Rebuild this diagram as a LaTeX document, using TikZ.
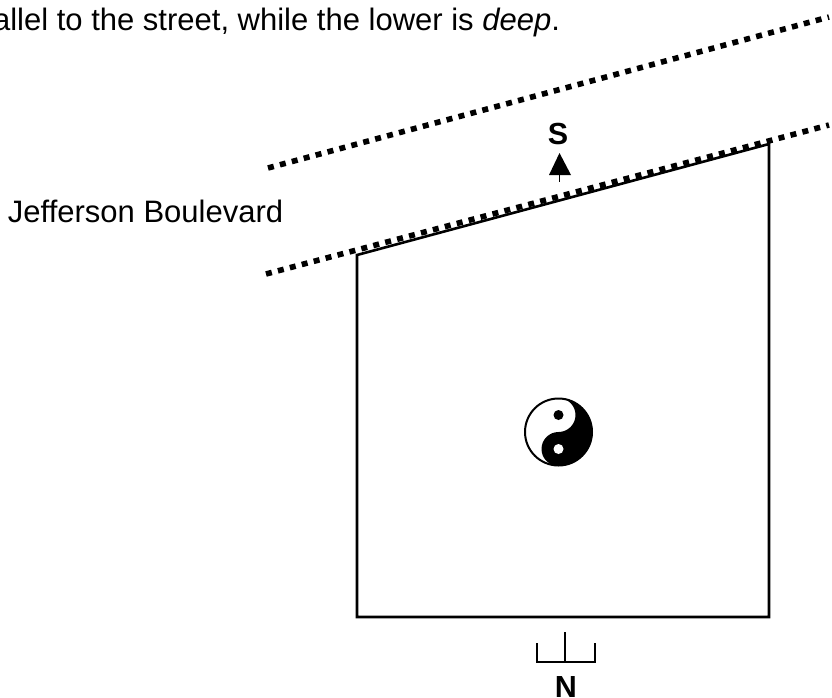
\documentclass[tikz,border=0pt]{standalone}
\usepackage{fontspec}
\setmainfont{Liberation Sans}
\tikzset{
  lot/.style={line width=2.6pt,black,line join=miter},
  road/.style={line width=5.6pt,black,dash pattern=on 6pt off 6.33pt},
  lbl/.style={inner sep=0pt,outer sep=0pt,font=\fontsize{31}{36}\selectfont},
  cmp/.style={inner sep=0pt,outer sep=0pt,anchor=base,font=\fontsize{30.5}{36}\selectfont\bfseries},
  tick/.style={line width=2pt,black}
}
\begin{document}
\begin{tikzpicture}[x=1pt,y=-1pt]
\useasboundingbox (0,0) rectangle (832,698);
\fill[white] (0,0) rectangle (832,698);
% lot
\coordinate (tl) at (357,255);
\coordinate (tr) at (769,144);
\coordinate (br) at (769,617);
\coordinate (bl) at (357,617);
\draw[lot] (tl) -- (tr) -- (br) -- (bl) -- cycle;
% street
\coordinate (u1) at (268,168);
\coordinate (u2) at (829,17);
\coordinate (l1) at (266,274);
\coordinate (l2) at (829,125);
\draw[road] (u1) -- (u2);
\draw[road] (l1) -- (l2);
% text
\node[lbl,anchor=base east] (cap) at (560,31) {allel to the street, while the lower is \textit{deep}.};
\node[lbl,anchor=base west] (jb) at (8,222) {Jefferson Boulevard};
\node[cmp] (s) at (558,144) {S};
\node[cmp] (n) at (566,697) {N};
% arrow
\coordinate (ap) at (559.5,153);
\coordinate (al) at (549,175);
\coordinate (ar) at (571,175);
\coordinate (as) at (559.5,182);
\fill (ap) -- (ar) -- (al) -- cycle;
\draw[line width=1.6pt] (ap |- al) -- (as);
% bracket
\coordinate (b1) at (537,643);
\coordinate (b2) at (537,662);
\coordinate (b3) at (595,662);
\coordinate (b4) at (595,643);
\coordinate (c1) at (565,632);
\coordinate (c2) at (565,662);
\draw[tick] (b1) -- (b2) -- (b3) -- (b4);
\draw[tick] (c1) -- (c2);
% yin-yang
\coordinate (yy) at (558.5,432);
\begin{scope}[shift={(yy)}]
\fill[white] (0,0) circle (34);
\fill[black] (0,-34) arc[start angle=-90,end angle=90,radius=34]
  arc[start angle=90,end angle=270,radius=17]
  arc[start angle=90,end angle=-90,radius=17] -- cycle;
\draw[line width=2pt] (0,0) circle (33.5);
\fill[black] (0,-17) circle (5);
\fill[white] (0,17) circle (5);
\end{scope}
\end{tikzpicture}
\end{document}
